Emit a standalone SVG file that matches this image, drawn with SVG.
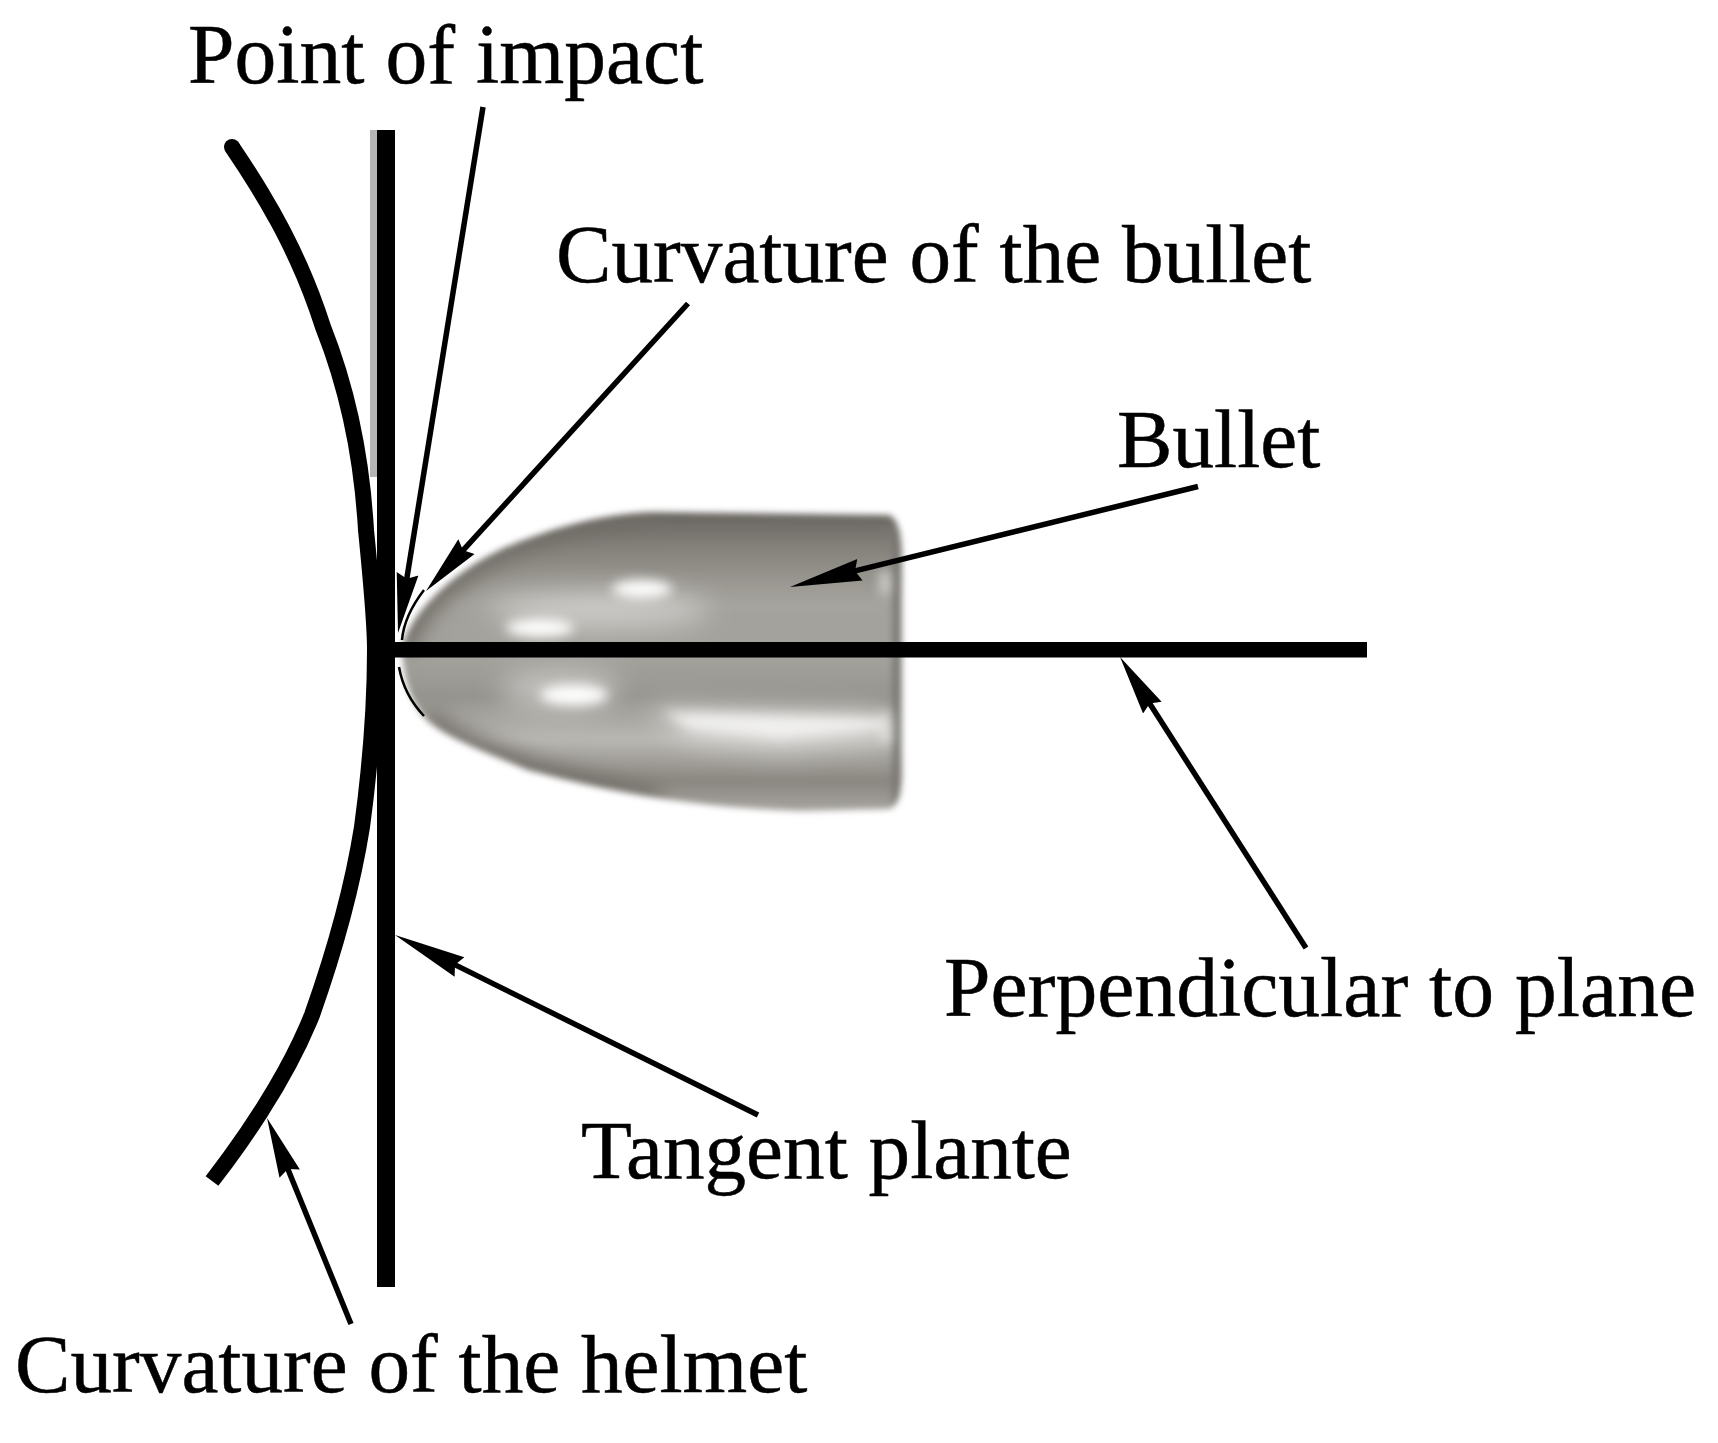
<svg xmlns="http://www.w3.org/2000/svg" width="1718" height="1443" viewBox="0 0 1718 1443">
<style>
text{font-family:"Liberation Serif","Times New Roman",serif;font-size:83.2px;fill:#000;stroke:#000;stroke-width:.5}
.arrow{fill:none;stroke:#000;stroke-width:5.5}
.long{marker-end:url(#headLong)}
.short{marker-end:url(#headShort)}
</style>
<defs>
<marker id="headLong" markerUnits="userSpaceOnUse" markerWidth="80" markerHeight="30" refX="52" refY="15" orient="auto"><path d="M0,4 L72,15 L0,26 L5,15 Z" fill="#000"/></marker>
<marker id="headShort" markerUnits="userSpaceOnUse" markerWidth="70" markerHeight="30" refX="40" refY="15" orient="auto"><path d="M0,4 L60,15 L0,26 L5,15 Z" fill="#000"/></marker>
<linearGradient id="body" x1="0" y1="0" x2="0" y2="1">
<stop offset="0" stop-color="#66635e"/><stop offset=".12" stop-color="#85827c"/><stop offset=".3" stop-color="#a5a39d"/><stop offset=".5" stop-color="#a3a19b"/><stop offset=".62" stop-color="#96948e"/><stop offset=".76" stop-color="#bab8b3"/><stop offset=".9" stop-color="#8a8781"/><stop offset="1" stop-color="#a8a5a0"/>
</linearGradient>
<clipPath id="shape"><path d="M402 650C408 612 462 562 524 540C556 528 600 514 653 512L889 515Q902 520 902 560L902 770Q902 806 889 809L800 811C720 808 640 800 528 770C480 750 440 735 424 717C410 700 404 680 402 650Z"/></clipPath>
<filter id="soft" x="-10%" y="-10%" width="120%" height="120%"><feGaussianBlur stdDeviation="3"/></filter>
<filter id="rim" x="-10%" y="-10%" width="120%" height="120%"><feGaussianBlur stdDeviation="10"/></filter>
<filter id="glow" x="-50%" y="-100%" width="200%" height="300%"><feGaussianBlur stdDeviation="6"/></filter>
<filter id="wide" x="-50%" y="-100%" width="200%" height="300%"><feGaussianBlur stdDeviation="14"/></filter>
</defs>
<rect width="1718" height="1443" fill="#fff"/>
<g id="bullet">
<g filter="url(#soft)">
<path d="M402 650C408 612 462 562 524 540C556 528 600 514 653 512L889 515Q902 520 902 560L902 770Q902 806 889 809L800 811C720 808 640 800 528 770C480 750 440 735 424 717C410 700 404 680 402 650Z" fill="url(#body)"/>
<g clip-path="url(#shape)">
<path d="M402 650C408 612 462 562 524 540C556 528 600 514 653 512M424 717C440 735 480 750 528 770C580 785 620 795 660 802" fill="none" stroke="#6f6c66" stroke-width="24" filter="url(#rim)"/>
<rect x="892" y="520" width="10" height="285" fill="#77746f" filter="url(#soft)"/>
</g>
</g>
<g fill="#fff" filter="url(#wide)" opacity=".45">
<ellipse cx="600" cy="610" rx="110" ry="18"/>
<ellipse cx="560" cy="690" rx="60" ry="18"/>
<path d="M640 705L885 712L885 738L780 752L690 740Z"/>
</g>
<g fill="#fff" filter="url(#glow)">
<ellipse cx="642" cy="589" rx="30" ry="9"/>
<ellipse cx="540" cy="628" rx="34" ry="9"/>
<ellipse cx="574" cy="695" rx="34" ry="10"/>
<path d="M662 712L880 718L880 730L780 738L690 730Z" opacity=".7"/>
<rect x="881" y="570" width="8" height="24" opacity=".7"/>
<rect x="881" y="712" width="8" height="30" opacity=".7"/>
</g>
<path d="M424 590Q404 616 402 640M399 667Q404 695 424 716" fill="none" stroke="#000" stroke-width="2.5"/>
</g>
<g id="tangent-plane">
<rect x="370" y="130" width="8" height="347" fill="#b5b5b5"/>
<rect x="377" y="130" width="18" height="1157" fill="#000"/>
</g>
<g id="helmet-curve">
<circle cx="232" cy="147" r="8"/>
<path fill="none" stroke="#000" stroke-width="16" d="M232 147C268 200 300 255 323 327C350 395 362 460 366 530C371 580 375 620 375 650C375 700 371 760 362 827C352 890 335 950 312 1015C292 1065 255 1125 212 1181"/>
</g>
<g id="perpendicular">
<rect x="378" y="642" width="989" height="15.5" fill="#000"/>
</g>
<g id="connectors">
<path class="arrow short" d="M483 107L401.2 613.3"/>
<path class="arrow short" d="M688 303.5L439.5 576.2"/>
<path class="arrow long" d="M1198 486.5L809.4 582.2"/>
<path class="arrow short" d="M1306 948L1130.8 673.9"/>
<path class="arrow long" d="M758 1115L412.9 943.9"/>
<path class="arrow short" d="M351 1324L274.6 1136.5"/>
</g>
<g id="label-point-of-impact"><text x="188" y="82.5" style="font-size:83.6px">Point of impact</text></g>
<g id="label-curvature-bullet"><text x="556" y="281.5">Curvature of the bullet</text></g>
<g id="label-bullet"><text x="1117" y="466.5">Bullet</text></g>
<g id="label-perpendicular"><text x="944" y="1016" style="font-size:83.6px">Perpendicular to plane</text></g>
<g id="label-tangent"><text x="581" y="1178">Tangent plante</text></g>
<g id="label-curvature-helmet"><text x="15" y="1392">Curvature of the helmet</text></g>
</svg>
